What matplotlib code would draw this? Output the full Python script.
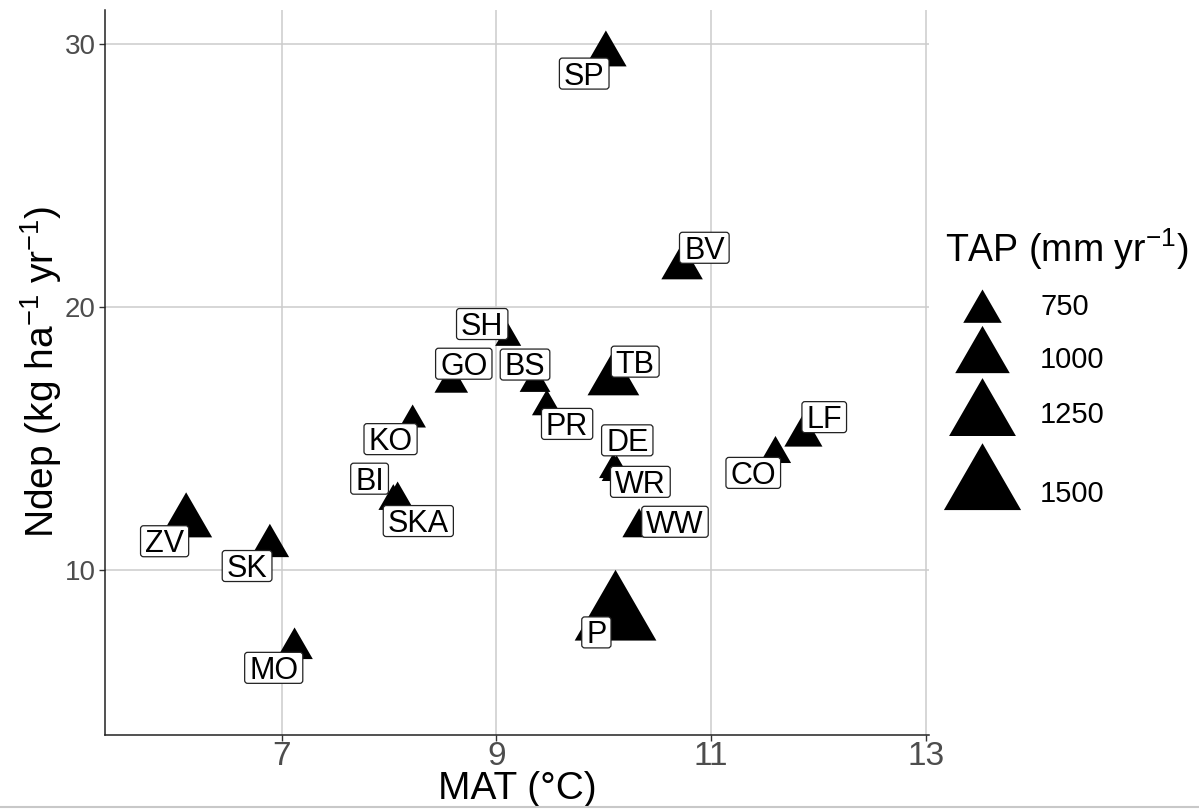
import numpy as np
import matplotlib
matplotlib.use("Agg")
import matplotlib.pyplot as plt
from matplotlib.path import Path as MPath
from matplotlib.patches import FancyBboxPatch
from matplotlib.transforms import IdentityTransform

plt.rcParams["font.family"] = ["Liberation Sans", "DejaVu Sans"]
plt.rcParams["mathtext.fontset"] = "custom"
plt.rcParams["mathtext.rm"] = "Liberation Sans"
plt.rcParams["mathtext.default"] = "regular"

# Site data
sites = ["SP", "BV", "SH", "GO", "BS", "PR", "TB", "DE", "WR", "WW",
         "KO", "BI", "SKA", "ZV", "SK", "MO", "P", "LF", "CO"]
mat = [10.02, 10.73, 9.11, 8.58, 9.36, 9.47, 10.09, 10.09, 10.12, 10.33,
       8.22, 8.04, 8.08, 6.11, 6.89, 7.12, 10.11, 11.86, 11.60]
ndep = [29.6, 21.5, 18.8, 17.1, 17.1, 16.2, 17.2, 13.8, 13.7, 11.6,
        15.7, 12.6, 12.7, 11.8, 10.9, 7.0, 8.2, 15.1, 14.4]
tap = [790, 790, 615, 690, 660, 650, 950, 640, 650, 690,
       620, 650, 650, 955, 750, 725, 1620, 745, 665]

legend_tap = [750, 1000, 1250, 1500]

# label box offsets from the point (points), repel-style placement
label_offsets = {
    "SP": (-15.6, -13.8), "BV": (16.0, 14.1), "SH": (-18.7, 10.3),
    "GO": (9.0, 13.9), "BS": (-7.2, 13.3), "PR": (14.6, -12.4),
    "TB": (15.7, 13.5), "DE": (10.0, 21.2), "WR": (17.1, -6.8),
    "WW": (25.8, 4.2), "KO": (-15.9, -13.9), "BI": (-17.1, 16.3),
    "SKA": (14.9, -16.1), "ZV": (-15.5, -13.6), "SK": (-16.4, -14.4),
    "MO": (-15.0, -13.9), "P": (-13.8, -11.1), "LF": (15.0, 13.3),
    "CO": (-16.0, -13.6),
}

DPI = 100
W, H = 1199, 809

# equilateral triangle centred on its circumcentre (like R pch 17)
tri = MPath([(0, 1), (-0.866, -0.5), (0.866, -0.5), (0, 1)],
            [MPath.MOVETO, MPath.LINETO, MPath.LINETO, MPath.CLOSEPOLY])


def tap_to_size(t):
    # area scale: side^2 grows linearly with TAP
    side_px = np.sqrt(np.maximum(5.968 * np.asarray(t, float) - 2992, 50))
    side_pt = side_px * 72 / DPI
    return (side_pt / 0.866) ** 2


fig = plt.figure(figsize=(W / DPI, H / DPI), dpi=DPI)
ax = fig.add_axes([105.3 / W, 74.5 / H, (929 - 105.3) / W, (734.5 - 10) / H])

ax.scatter(mat, ndep, s=tap_to_size(tap), marker=tri, c="black",
           linewidths=0, zorder=3)

ax.set_xlim(5.357, 13.03)
ax.set_ylim(3.73, 31.29)
ax.set_xticks([7, 9, 11, 13])
ax.set_yticks([10, 20, 30])
ax.grid(True, color="#cccccc", lw=1.1)
ax.set_axisbelow(True)
for side in ["top", "right"]:
    ax.spines[side].set_visible(False)
for side in ["left", "bottom"]:
    ax.spines[side].set_color("#222222")
    ax.spines[side].set_linewidth(1.1)
ax.tick_params(axis="both", direction="out", length=4, width=1, color="#333333")
ax.tick_params(axis="x", labelsize=24, labelcolor="#4d4d4d", pad=1)
ax.tick_params(axis="y", labelsize=20, labelcolor="#4d4d4d", pad=3)

ax.set_xlabel("MAT (°C)", fontsize=28)
ax.xaxis.label.set_va("center")
ax.xaxis.set_label_coords(0.5, -0.075)
ax.set_ylabel("Ndep (kg ha$^{-1}$ yr$^{-1}$)", fontsize=28)
ax.yaxis.label.set_va("center")
ax.yaxis.set_label_coords(-0.078, 0.5)

# labels with white boxes
FS = 22
texts = []
for name, x, y in zip(sites, mat, ndep):
    dx, dy = label_offsets[name]
    t = ax.annotate(name, xy=(x, y), xytext=(dx, dy - 0.358 * FS),
                    textcoords="offset points", ha="center", va="baseline",
                    fontsize=FS, zorder=6, annotation_clip=False)
    texts.append((t, x, y, dx, dy))

fig.canvas.draw()
renderer = fig.canvas.get_renderer()
box_h = 31
for t, x, y, dx, dy in texts:
    bb = t.get_window_extent(renderer)
    cx, cy = ax.transData.transform((x, y)) + np.array([dx, dy]) * DPI / 72
    bw = bb.width + 9
    box = FancyBboxPatch((cx - bw / 2, cy - box_h / 2), bw, box_h,
                         boxstyle="round,pad=0,rounding_size=3",
                         transform=IdentityTransform(), facecolor="white",
                         edgecolor="#222222", lw=0.9, zorder=5)
    ax.add_patch(box)

# legend drawn in pixel space
lax = fig.add_axes([0, 0, 1, 1])
lax.set_xlim(0, W)
lax.set_ylim(H, 0)
lax.axis("off")
lax.patch.set_alpha(0)

key_y = [311.7, 357.4, 416.7, 487.8]
text_y = [315, 368.3, 422.7, 501.7]
lax.scatter([982.5] * 4, key_y, s=tap_to_size(legend_tap), marker=tri,
            c="black", linewidths=0)
for v, ty in zip(legend_tap, text_y):
    lax.text(1040, ty, str(v), fontsize=21, va="baseline", ha="left")
lax.text(945, 261.7, "TAP (mm yr$^{-1}$)", fontsize=27, va="baseline", ha="left")

lax.plot([0, W], [806.5, 806.5], color="#c8c8c8", lw=1.5)

fig.savefig("out.png", dpi=DPI)
